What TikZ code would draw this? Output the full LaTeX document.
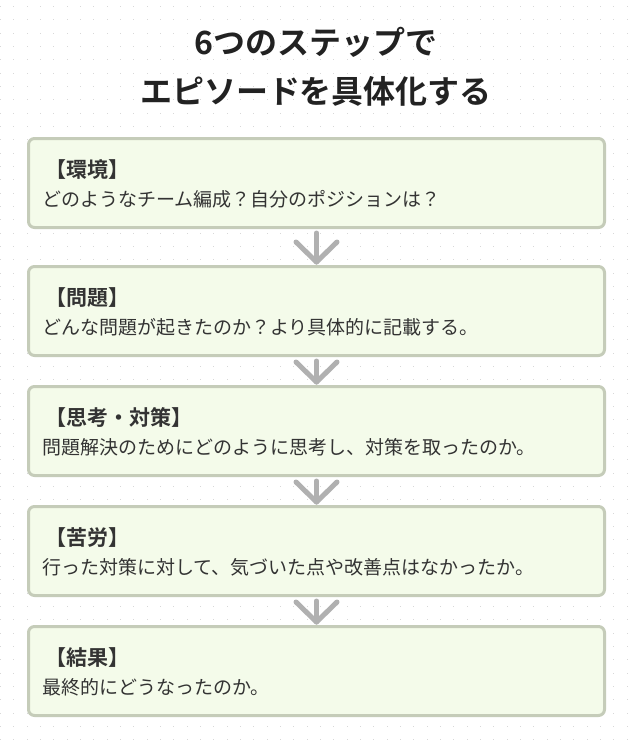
\documentclass[tikz,border=0pt]{standalone}
\usepackage{fontspec}
\setmainfont{Noto Sans CJK JP}[BoldFont={Noto Sans CJK JP Bold}]
\usetikzlibrary{calc}
\definecolor{boxfill}{HTML}{F4FBEA}
\definecolor{boxline}{HTML}{C5CCB9}
\definecolor{arrgray}{HTML}{B0B0B0}
\definecolor{txt}{HTML}{333333}
\definecolor{ttl}{HTML}{222222}
\definecolor{dotc}{HTML}{D8D8D8}
\tikzset{
  stepbox/.style={draw=boxline, line width=3pt, fill=boxfill, rounded corners=6pt,
    minimum width=576pt, minimum height=89pt, inner sep=0pt},
  steplabel/.style={anchor=base west, inner sep=0pt, text=txt, font=\fontsize{21}{25}\selectfont\bfseries},
  stepbody/.style={anchor=base west, inner sep=0pt, text=txt, font=\fontsize{19}{23}\selectfont},
  titletext/.style={anchor=base, inner sep=0pt, text=ttl, font=\fontsize{32}{38}\selectfont\bfseries},
  arrline/.style={draw=arrgray, line width=5pt, line cap=round, line join=round}
}
\begin{document}
\begin{tikzpicture}[x=1pt,y=-1pt]
\useasboundingbox (0,0) rectangle (632,740);
\fill[white] (0,0) rectangle (632,740);
\foreach \i in {0,...,47}{
  \foreach \j in {0,...,55}{
    \fill[dotc] ({\i*13.333},{6+\j*13.333}) rectangle ++(1,1);
  }
}
% title
\node[titletext] (t1) at (316,54) {6つのステップで};
\node[titletext] (t2) at (316,103) {エピソードを具体化する};
% boxes
\node[stepbox] (b1) at (316.5,183) {};
\node[stepbox] (b2) at (316.5,311) {};
\node[stepbox] (b3) at (316.5,431) {};
\node[stepbox] (b4) at (316.5,551) {};
\node[stepbox] (b5) at (316.5,671) {};
% texts
\node[steplabel] (l1) at (45,177) {【環境】};
\node[stepbody]  (d1) at (42,206) {どのようなチーム編成？自分のポジションは？};
\node[steplabel] (l2) at (45,305) {【問題】};
\node[stepbody]  (d2) at (42,334) {どんな問題が起きたのか？より具体的に記載する。};
\node[steplabel] (l3) at (45,425) {【思考・対策】};
\node[stepbody]  (d3) at (42,454) {問題解決のためにどのように思考し、対策を取ったのか。};
\node[steplabel] (l4) at (45,545) {【苦労】};
\node[stepbody]  (d4) at (42,574) {行った対策に対して、気づいた点や改善点はなかったか。};
\node[steplabel] (l5) at (45,665) {【結果】};
\node[stepbody]  (d5) at (42,694) {最終的にどうなったのか。};
% arrows
\foreach \a/\b in {b1/b2,b2/b3,b3/b4,b4/b5}{
  \draw[arrline] ($(\a.south)+(0,4)$) -- ($(\b.north)+(0,-3)$);
  \draw[arrline] ($(\b.north)+(-20.5,-23)$) -- ($(\b.north)+(0,-3)$) -- ($(\b.north)+(20.5,-23)$);
}
\end{tikzpicture}
\end{document}
